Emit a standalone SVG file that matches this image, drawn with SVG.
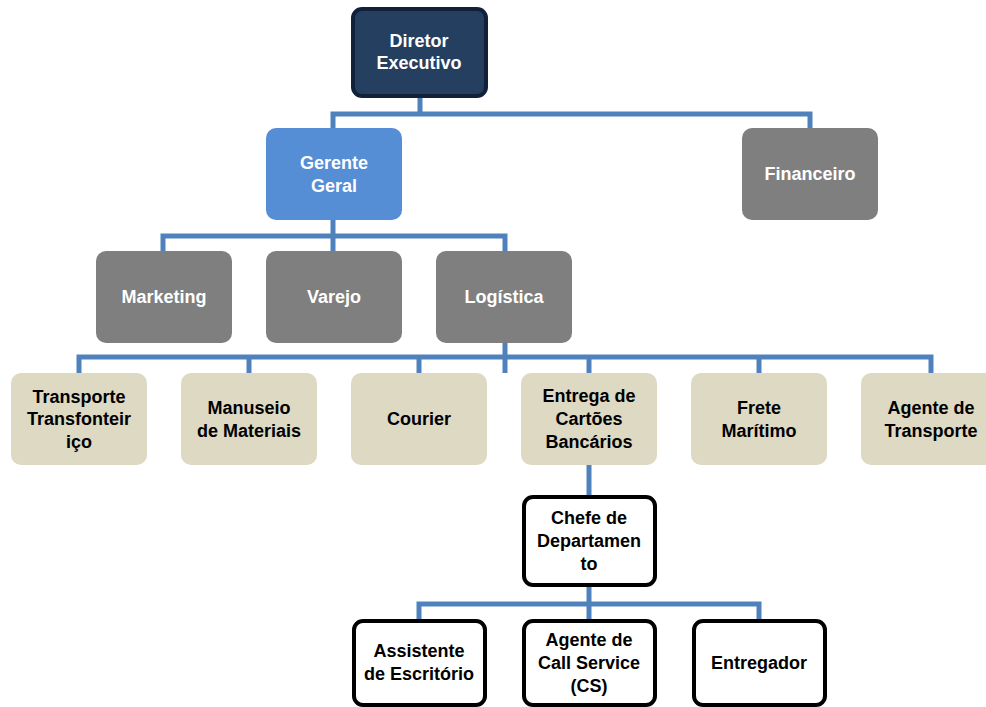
<svg xmlns="http://www.w3.org/2000/svg" width="986" height="707" viewBox="0 0 986 707">
<style>
text{font-family:"Liberation Sans",Arial,sans-serif;font-weight:bold;font-size:18px;text-anchor:middle;dominant-baseline:central}
.w{fill:#fff}.k{fill:#000}
.gray{fill:#7F7F7F}
.beige{fill:#DDD9C3}
.white{fill:#fff;stroke:#000;stroke-width:4}
.conn{fill:none;stroke:#4F81BD;stroke-width:5}
</style>
<rect width="986" height="707" fill="#fff"/>
<g id="connectors" class="conn">
<path d="M420 97V114M333 128V114H810V128"/>
<path d="M333 220V251M163 251V236H505V251"/>
<path d="M505 343V373M79 373V357H931V373M249 357V373M419 357V373M589 357V373M759 357V373"/>
<path d="M589 465V497"/>
<path d="M589 586V620M419 620V604H759V620"/>
</g>
<g id="diretor"><rect x="353" y="9" width="133" height="87" rx="9" fill="#243F60" stroke="#12213A" stroke-width="4"/><text class="w" x="419" y="41">Diretor</text><text class="w" x="419" y="63">Executivo</text></g>
<g id="gerente"><rect x="266" y="128" width="136" height="92" rx="10" fill="#558ED5"/><text class="w" x="334" y="163">Gerente</text><text class="w" x="334" y="186">Geral</text></g>
<g id="financeiro"><rect x="742" y="128" width="136" height="92" rx="10" class="gray"/><text class="w" x="810" y="174">Financeiro</text></g>
<g id="marketing"><rect x="96" y="251" width="136" height="92" rx="10" class="gray"/><text class="w" x="164" y="297">Marketing</text></g>
<g id="varejo"><rect x="266" y="251" width="136" height="92" rx="10" class="gray"/><text class="w" x="334" y="297">Varejo</text></g>
<g id="logistica"><rect x="436" y="251" width="136" height="92" rx="10" class="gray"/><text class="w" x="504" y="297">Logística</text></g>
<g id="transporte"><rect x="11" y="373" width="136" height="92" rx="10" class="beige"/><text class="k" x="79" y="397">Transporte</text><text class="k" x="79" y="419">Transfonteir</text><text class="k" x="79" y="442">iço</text></g>
<g id="manuseio"><rect x="181" y="373" width="136" height="92" rx="10" class="beige"/><text class="k" x="249" y="408">Manuseio</text><text class="k" x="249" y="431">de Materiais</text></g>
<g id="courier"><rect x="351" y="373" width="136" height="92" rx="10" class="beige"/><text class="k" x="419" y="419">Courier</text></g>
<g id="entrega"><rect x="521" y="373" width="136" height="92" rx="10" class="beige"/><text class="k" x="589" y="396">Entrega de</text><text class="k" x="589" y="419">Cartões</text><text class="k" x="589" y="442">Bancários</text></g>
<g id="frete"><rect x="691" y="373" width="136" height="92" rx="10" class="beige"/><text class="k" x="759" y="408">Frete</text><text class="k" x="759" y="431">Marítimo</text></g>
<g id="agente-transporte"><rect x="861" y="373" width="136" height="92" rx="10" class="beige"/><text class="k" x="931" y="408">Agente de</text><text class="k" x="931" y="431">Transporte</text></g>
<g id="chefe"><rect x="524" y="497" width="131" height="88" rx="9" class="white"/><text class="k" x="589" y="518">Chefe de</text><text class="k" x="589" y="541">Departamen</text><text class="k" x="589" y="564">to</text></g>
<g id="assistente"><rect x="354" y="621" width="131" height="84" rx="9" class="white"/><text class="k" x="419" y="651">Assistente</text><text class="k" x="419" y="674">de Escritório</text></g>
<g id="agente-cs"><rect x="524" y="621" width="131" height="84" rx="9" class="white"/><text class="k" x="589" y="640">Agente de</text><text class="k" x="589" y="663">Call Service</text><text class="k" x="589" y="686">(CS)</text></g>
<g id="entregador"><rect x="694" y="621" width="131" height="84" rx="9" class="white"/><text class="k" x="759" y="663">Entregador</text></g>
</svg>
